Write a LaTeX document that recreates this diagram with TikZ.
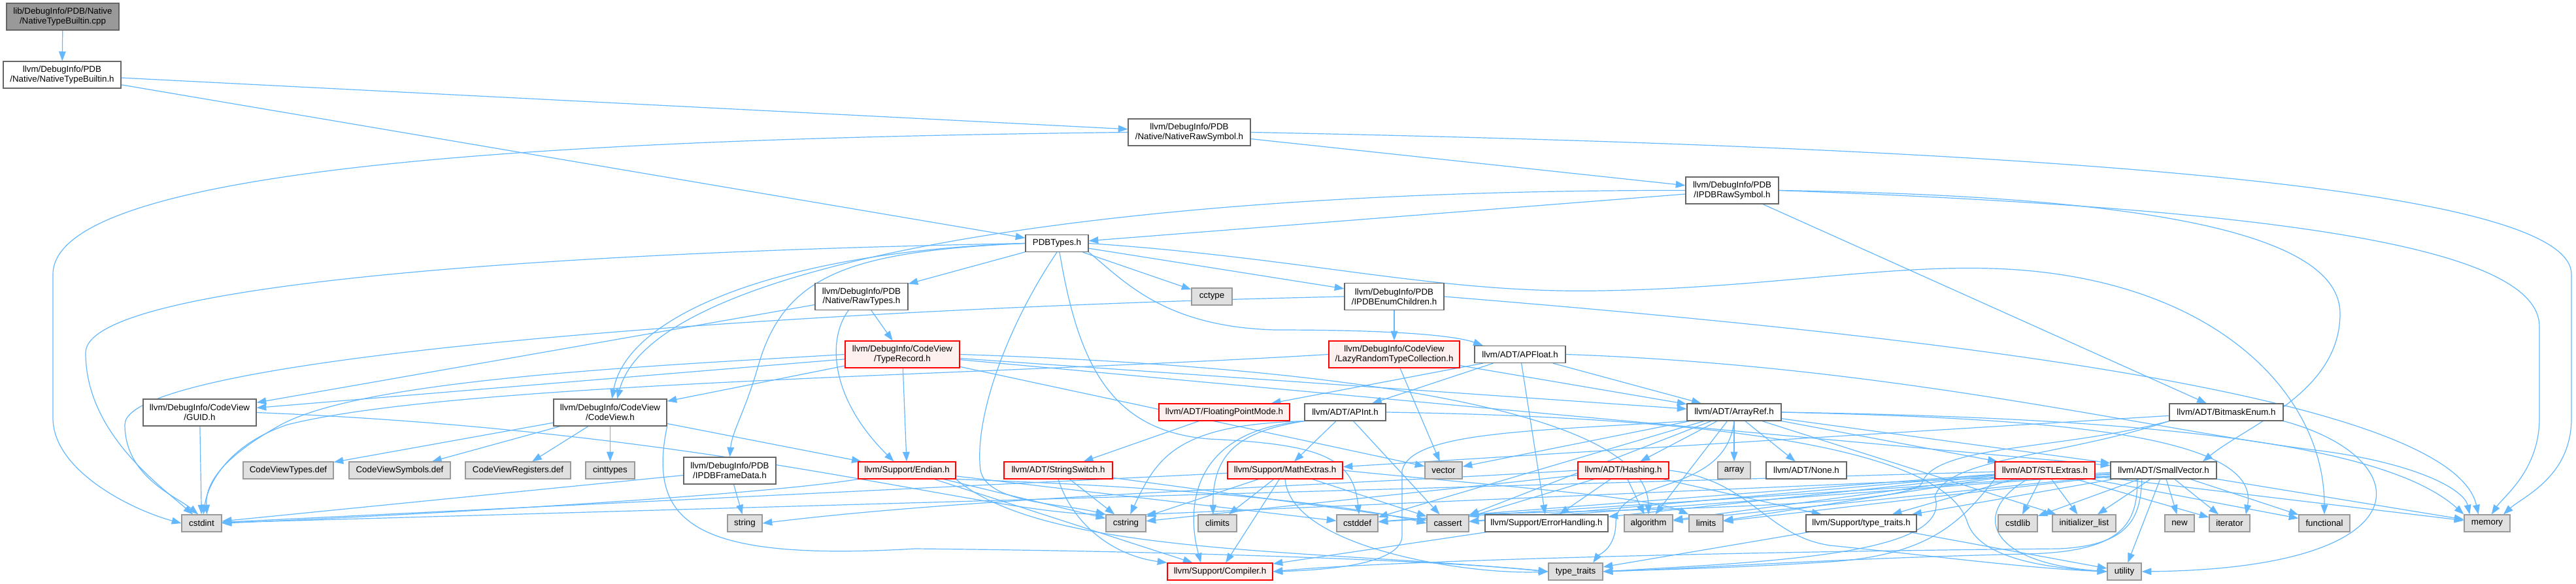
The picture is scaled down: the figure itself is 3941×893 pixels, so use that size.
\documentclass[tikz,border=0pt]{standalone}
\usepackage{fontspec}
\setmainfont{Liberation Sans}
\usetikzlibrary{arrows.meta}
\definecolor{ec}{HTML}{63B8FF}
\definecolor{bd}{HTML}{666666}
\definecolor{gb}{HTML}{999999}
\definecolor{gf}{HTML}{E0E0E0}
\definecolor{rf}{HTML}{FFF0F0}
\definecolor{rb}{HTML}{FF0000}
\pgfdeclarelayer{bg}
\pgfdeclarelayer{edges}
\pgfsetlayers{bg,edges,main}
\begin{document}
\begin{tikzpicture}[x=0.75pt,y=-0.75pt,
 base/.style={rectangle, inner sep=0pt, line width=0.9pt, font=\fontsize{10}{11}\selectfont, align=center, text=black},
 wn/.style={base, draw=bd, fill=white},
 gn/.style={base, draw=gb, fill=gf},
 rn/.style={base, draw=rb, fill=rf},
 mn/.style={base, draw=bd, fill=gb},
 sz/.style 2 args={minimum width=#1*0.75pt, minimum height=#2*0.75pt},
 e/.style={draw=ec, line width=0.9pt, -{Triangle[length=11pt,width=8pt]}}]
\begin{pgfonlayer}{bg}
\fill[white] (0,0) rectangle (3941,893);
\end{pgfonlayer}
\useasboundingbox (0,0) rectangle (3941,893);
% nodes
\node[mn, sz={172}{41}] (cpp) at (96,25.5) {lib/DebugInfo/PDB/Native\\/NativeTypeBuiltin.cpp};
\node[wn, sz={180}{41}] (ntb) at (95,114.5) {llvm/DebugInfo/PDB\\/Native/NativeTypeBuiltin.h};
\node[wn, sz={187}{41}] (nrs) at (1819.5,202.5) {llvm/DebugInfo/PDB\\/Native/NativeRawSymbol.h};
\node[wn, sz={142}{41}] (irs) at (2650,291.5) {llvm/DebugInfo/PDB\\/IPDBRawSymbol.h};
\node[wn, sz={96}{26}] (pdbt) at (1617,372.5) {PDBTypes.h};
\node[wn, sz={142}{41}] (raw) at (1318,454) {llvm/DebugInfo/PDB\\/Native/RawTypes.h};
\node[gn, sz={62}{26}] (cctype) at (1854,454) {cctype};
\node[wn, sz={152}{41}] (iec) at (2133,454) {llvm/DebugInfo/PDB\\/IPDBEnumChildren.h};
\node[rn, sz={175}{41}] (tr) at (1380.5,542.5) {llvm/DebugInfo/CodeView\\/TypeRecord.h};
\node[rn, sz={200}{41}] (lrtc) at (2133,542.5) {llvm/DebugInfo/CodeView\\/LazyRandomTypeCollection.h};
\node[wn, sz={139}{26}] (apf) at (2325.5,542.5) {llvm/ADT/APFloat.h};
\node[wn, sz={173}{41}] (guid) at (305.5,631.5) {llvm/DebugInfo/CodeView\\/GUID.h};
\node[wn, sz={173}{41}] (cv) at (933.5,631.5) {llvm/DebugInfo/CodeView\\/CodeView.h};
\node[rn, sz={200}{26}] (fpm) at (1873,631) {llvm/ADT/FloatingPointMode.h};
\node[wn, sz={124}{26}] (apint) at (2058,631) {llvm/ADT/APInt.h};
\node[wn, sz={144}{26}] (aref) at (2653,631) {llvm/ADT/ArrayRef.h};
\node[wn, sz={174}{26}] (bme) at (3406,631) {llvm/ADT/BitmaskEnum.h};
\node[gn, sz={138}{26}] (cvtypes) at (441,720) {CodeViewTypes.def};
\node[gn, sz={155}{26}] (cvsym) at (611.5,720) {CodeViewSymbols.def};
\node[gn, sz={161}{26}] (cvreg) at (792.5,720) {CodeViewRegisters.def};
\node[gn, sz={75}{26}] (cinttypes) at (933.5,720) {cinttypes};
\node[wn, sz={141}{41}] (ifd) at (1116.5,720.5) {llvm/DebugInfo/PDB\\/IPDBFrameData.h};
\node[rn, sz={149}{26}] (endian) at (1387.5,720) {llvm/Support/Endian.h};
\node[rn, sz={166}{26}] (sswitch) at (1619,720) {llvm/ADT/StringSwitch.h};
\node[rn, sz={176}{26}] (mathx) at (1966,720) {llvm/Support/MathExtras.h};
\node[gn, sz={57}{26}] (vector) at (2208.5,720) {vector};
\node[rn, sz={139}{26}] (hashing) at (2483.5,720) {llvm/ADT/Hashing.h};
\node[gn, sz={50}{26}] (array) at (2653,720) {array};
\node[wn, sz={123}{26}] (none) at (2763.5,720) {llvm/ADT/None.h};
\node[rn, sz={153}{26}] (stl) at (3128.5,720) {llvm/ADT/STLExtras.h};
\node[wn, sz={162}{26}] (sv) at (3310,720) {llvm/ADT/SmallVector.h};
\node[gn, sz={61}{26}] (cstdint) at (308.5,801) {cstdint};
\node[gn, sz={53}{26}] (string) at (1139.5,801) {string};
\node[gn, sz={61}{26}] (cstring) at (1722.5,801) {cstring};
\node[gn, sz={59}{26}] (climits) at (1862.5,801) {climits};
\node[gn, sz={63}{26}] (cstddef) at (2076.5,801) {cstddef};
\node[gn, sz={64}{26}] (cassert) at (2215,801) {cassert};
\node[wn, sz={188}{26}] (errh) at (2366,801) {llvm/Support/ErrorHandling.h};
\node[gn, sz={74}{26}] (algorithm) at (2522,801) {algorithm};
\node[gn, sz={52}{26}] (limits) at (2610,801) {limits};
\node[wn, sz={169}{26}] (tt) at (2847.5,801) {llvm/Support/type\_traits.h};
\node[gn, sz={60}{26}] (cstdlib) at (3087,801) {cstdlib};
\node[gn, sz={97}{26}] (initlist) at (3188.5,801) {initializer\_list};
\node[gn, sz={45}{26}] (new) at (3334.5,801) {new};
\node[gn, sz={62}{26}] (iterator) at (3411,801) {iterator};
\node[gn, sz={78}{26}] (functional) at (3556,801) {functional};
\node[gn, sz={70}{26}] (memory) at (3805,801) {memory};
\node[rn, sz={161}{26}] (compiler) at (1866.5,875) {llvm/Support/Compiler.h};
\node[gn, sz={83}{26}] (stdtt) at (2410.5,875) {type\_traits};
\node[gn, sz={52}{26}] (utility) at (3250,875) {utility};
% edges
\begin{pgfonlayer}{edges}
\draw[e] (cpp) -- (ntb);
\draw[e] (ntb) -- (nrs);
\draw[e] (ntb) -- (pdbt);
\draw[e] (nrs) -- (irs);
\draw[e] (nrs.west) .. controls (900,212) and (81,250) .. (81,420) -- (81,640) .. controls (81,720) and (200,780) .. (cstdint.west);
\draw[e] (nrs.east) .. controls (3300,230) and (3934,300) .. (3934,420) -- (3934,640) .. controls (3934,730) and (3860,760) .. ([xshift=-8pt]memory.north east);
\draw[e] (irs) -- (pdbt);
\draw[e] (irs) -- (bme);
\draw[e] (irs.east) .. controls (3300,300) and (3580,360) .. (3580,480) .. controls (3580,600) and (3440,650) .. ([xshift=45pt]sv.north);
\draw[e] (irs.east) .. controls (3500,320) and (3885,380) .. (3885,500) -- (3885,640) .. controls (3885,720) and (3830,760) .. ([xshift=5pt]memory.north);
\draw[e] (irs.west) .. controls (1700,290) and (1000,400) .. ([xshift=8pt]cv.north);
% PDBTypes
\draw[e] (pdbt) -- (raw);
\draw[e] (pdbt) -- (cctype);
\draw[e] (pdbt) -- (iec);
\draw[e] (pdbt.west) .. controls (1200,385) and (960,480) .. ([xshift=2pt]cv.north);
\draw[e] (pdbt.west) .. controls (1300,385) and (1200,420) .. (1160,560) .. controls (1140,630) and (1120,660) .. (ifd.north);
\draw[e] (pdbt.west) .. controls (900,385) and (131,430) .. (131,540) .. controls (131,660) and (240,740) .. ([xshift=-10pt]cstdint.north);
\draw[e] (pdbt.south) .. controls (1540,500) and (1490,640) .. (1500,720) .. controls (1510,770) and (1620,770) .. (cstring.north west);
\draw[e] ([xshift=3pt]pdbt.south) .. controls (1650,560) and (1700,660) .. (1850,672) .. controls (2020,680) and (2070,700) .. ([xshift=2pt]cstddef.north);
\draw[e] (pdbt.south east) .. controls (1720,430) and (1780,500) .. (1950,505) .. controls (2150,505) and (2230,515) .. ([xshift=10pt]apf.north west);
\draw[e] (pdbt.east) .. controls (2000,395) and (2200,450) .. (2450,445) .. controls (2750,440) and (2950,390) .. (3150,420) .. controls (3420,460) and (3556,620) .. (functional.north);
% RawTypes
\draw[e] (raw) -- (guid);
\draw[e] (raw) -- (tr);
\draw[e] ([xshift=-15pt]raw.south) .. controls (1265,520) and (1270,610) .. ([xshift=-15pt]endian.north);
% IPDBEnumChildren
\draw[e] (iec) -- (lrtc);
\draw[e] (iec.west) .. controls (1300,470) and (191,540) .. (191,650) .. controls (191,730) and (270,760) .. ([xshift=-4pt]cstdint.north);
\draw[e] (iec.east) .. controls (2900,510) and (3750,600) .. ([xshift=-10pt]memory.north);
% LazyRandomTypeCollection
\draw[e] (lrtc) -- (aref);
\draw[e] (lrtc) -- (vector);
\draw[e] (lrtc.west) .. controls (1500,575) and (700,585) .. (440,650) .. controls (350,680) and (318,740) .. ([xshift=2pt]cstdint.north);
% TypeRecord
\draw[e] (tr) -- (guid);
\draw[e] (tr) -- (cv);
\draw[e] (tr) -- (endian);
\draw[e] (tr) -- (aref);
\draw[e] (tr) -- (sv);
\draw[e] (tr) -- (vector);
\draw[e] (tr.east) .. controls (2000,560) and (2520,620) .. (algorithm.north);
\draw[e] (tr.west) .. controls (1000,560) and (560,580) .. (430,650) .. controls (340,700) and (314,740) .. ([xshift=6pt]cstdint.north);
% APFloat
\draw[e] ([xshift=10pt]apf.south west) -- (fpm);
\draw[e] (apf) -- (apint);
\draw[e] (apf) -- (errh);
\draw[e] (apf) -- (aref);
\draw[e] (apf.east) .. controls (2900,560) and (3300,660) .. (3550,690) .. controls (3700,710) and (3770,750) .. ([xshift=-20pt]memory.north);
% APInt
\draw[e] (apint) -- (mathx);
\draw[e] (apint) -- (cassert);
\draw[e] (apint.south west) .. controls (1900,660) and (1855,690) .. ([xshift=-5pt]climits.north);
\draw[e] (apint.south west) .. controls (1800,650) and (1770,700) .. ([xshift=5pt]cstring.north);
\draw[e] (apint.south west) .. controls (1820,660) and (1815,780) .. ([xshift=-22pt]compiler.north);
\draw[e] (apint.east) .. controls (2700,640) and (2980,700) .. (3010,800) .. controls (3030,860) and (3150,870) .. (utility.west);
\draw[e] (fpm) -- (sswitch);
% GUID
\draw[e] (guid) -- (cstdint);
\draw[e] (guid.east) .. controls (1100,660) and (1500,785) .. (cstring.north west);
% CodeView
\draw[e] (cv) -- (cvtypes);
\draw[e] (cv) -- (cvsym);
\draw[e] (cv) -- (cvreg);
\draw[e] (cv) -- (cinttypes);
\draw[e] (cv) -- (endian);
\draw[e] (cv.south east) .. controls (990,800) and (1060,860) .. (1400,840) .. controls (1900,845) and (2250,862) .. (stdtt.west);
% IPDBFrameData
\draw[e] (ifd) -- (string);
\draw[e] (ifd) -- (cstdint);
% Endian
\draw[e] (endian) -- (compiler);
\draw[e] (endian) -- (cstring);
\draw[e] (endian.south west) .. controls (1150,760) and (600,790) .. (cstdint.east);
\draw[e] (endian.south east) .. controls (1800,745) and (2050,770) .. (cassert.west);
\draw[e] (endian) -- (cstddef);
\draw[e] (endian.south east) .. controls (1600,850) and (2000,840) .. (stdtt.west);
% StringSwitch
\draw[e] (sswitch) -- (cstring);
\draw[e] (sswitch.south) .. controls (1640,800) and (1700,850) .. (compiler.north west);
\draw[e] (sswitch) -- (cassert);
% MathExtras
\draw[e] (mathx) -- (compiler);
\draw[e] (mathx) -- (cstring);
\draw[e] (mathx) -- (climits);
\draw[e] (mathx) -- (cstdint);
\draw[e] (mathx) -- (cassert);
\draw[e] (mathx.east) .. controls (2300,745) and (2520,760) .. (limits.north west);
\draw[e] (mathx.south) .. controls (1975,840) and (2250,880) .. (stdtt.west);
% BitmaskEnum
\draw[e] (bme) -- (mathx);
\draw[e] (bme.south west) .. controls (3150,690) and (2960,680) .. (2940,740) .. controls (2920,775) and (2500,780) .. (cassert.north east);
\draw[e] (bme.south east) .. controls (3700,700) and (3720,870) .. (utility.east);
\draw[e] (bme.south west) .. controls (3150,700) and (2980,700) .. (2960,760) .. controls (2990,850) and (2700,860) .. (stdtt.east);
% ArrayRef
\draw[e] (aref) -- (hashing);
\draw[e] (aref) -- (array);
\draw[e] (aref) -- (none);
\draw[e] (aref) -- (stl);
\draw[e] (aref) -- (sv);
\draw[e] (aref.south west) .. controls (2350,660) and (2160,660) .. (2145,720) -- (2145,820) .. controls (2145,860) and (2050,872) .. (compiler.east);
\draw[e] (aref) -- (algorithm);
\draw[e] (aref) -- (cassert);
\draw[e] (aref) -- (cstddef);
\draw[e] (aref) -- (initlist);
\draw[e] (aref.east) .. controls (3100,640) and (3460,660) .. ([xshift=-5pt]iterator.north east);
\draw[e] (aref.east) .. controls (3300,640) and (3650,680) .. (memory.north west);
\draw[e] (aref.south) .. controls (2640,760) and (2472,730) .. (2472,800) .. controls (2472,840) and (2445,850) .. ([xshift=20pt]stdtt.north);
\draw[e] (aref) -- (vector);
% Hashing
\draw[e] (hashing) -- (errh);
\draw[e] (hashing) -- (algorithm);
\draw[e] (hashing) -- (tt);
\draw[e] (hashing) -- (cassert);
\draw[e] (hashing) -- (cstring);
\draw[e] (hashing.west) .. controls (2000,745) and (1500,760) .. (string.east);
\draw[e] (hashing.east) .. controls (2680,735) and (2700,820) .. (2800,835) .. controls (2950,850) and (3100,870) .. (utility.west);
% ErrorHandling, type_traits.h
\draw[e] (errh) -- (compiler);
\draw[e] (tt) -- (stdtt);
\draw[e] (tt) -- (utility);
% STLExtras
\draw[e] (stl) -- (errh);
\draw[e] (stl) -- (algorithm);
\draw[e] (stl) -- (cassert);
\draw[e] (stl) -- (cstddef);
\draw[e] (stl) -- (cstdint);
\draw[e] (stl) -- (limits);
\draw[e] (stl) -- (cstdlib);
\draw[e] (stl) -- (initlist);
\draw[e] (stl) -- (iterator);
\draw[e] (stl) -- (functional);
\draw[e] (stl) -- (memory);
\draw[e] (stl) -- (tt);
\draw[e] (stl.south west) .. controls (3000,800) and (2950,850) .. (2800,860) .. controls (2650,870) and (2500,873) .. (stdtt.east);
\draw[e] ([xshift=-20pt]stl.south) .. controls (3020,780) and (3030,860) .. (utility.west);
% SmallVector
\draw[e] ([xshift=-25pt]sv.south) .. controls (3275,790) and (3260,835) .. (3150,840) .. controls (2600,845) and (2100,860) .. (compiler.east);
\draw[e] (sv) -- (tt);
\draw[e] (sv) -- (algorithm);
\draw[e] (sv) -- (cassert);
\draw[e] (sv) -- (cstddef);
\draw[e] (sv) -- (cstdlib);
\draw[e] (sv) -- (cstring.north east);
\draw[e] (sv) -- (functional);
\draw[e] (sv) -- (initlist);
\draw[e] (sv) -- (iterator);
\draw[e] (sv) -- (limits);
\draw[e] (sv) -- (memory);
\draw[e] (sv) -- (new);
\draw[e] ([xshift=-30pt]sv.south) .. controls (3270,800) and (3250,845) .. (3100,848) .. controls (2800,855) and (2600,870) .. (stdtt.east);
\draw[e] (sv) -- (utility);
\end{pgfonlayer}
\end{tikzpicture}
\end{document}
